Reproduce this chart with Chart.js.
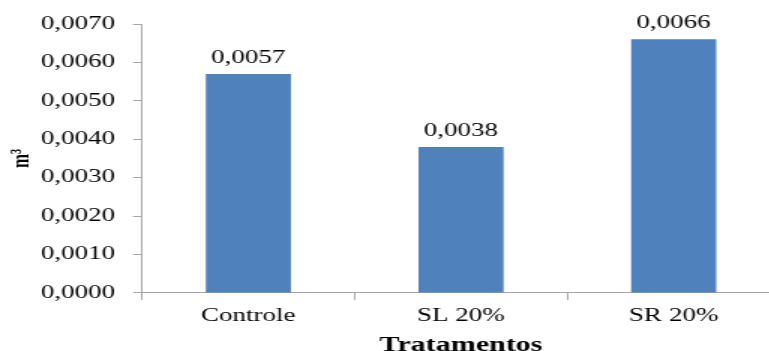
<!DOCTYPE html>
<html>
<head>
<meta charset="utf-8">
<script src="https://cdn.jsdelivr.net/npm/chart.js@4/dist/chart.umd.min.js"></script>
<style>
  html, body { margin: 0; padding: 0; background: #fff; overflow: hidden; }
  #frame { width: 769px; height: 351px; overflow: hidden; position: relative; }
  /* the chart is laid out narrow and widened horizontally */
  #stretch { width: 520px; height: 370px; transform: scaleX(1.5); transform-origin: 0 0; }
</style>
</head>
<body>
<div id="frame"><div id="stretch"><canvas id="c" width="520" height="370"></canvas></div></div>
<script>
const categories = ['Controle', 'SL 20%', 'SR 20%'];
const volumes = [0.0057, 0.0038, 0.0066];
const yMin = 0, yMax = 0.007, yStep = 0.001;
const yTitle = 'm³';
const xTitle = 'Tratamentos';

const SERIF = '"Liberation Serif", "Times New Roman", serif';
const AXIS = '#A6A6A6';
const fmt = v => Number(v).toFixed(4).replace('.', ',');

const valueLabels = {
  id: 'valueLabels',
  afterDatasetsDraw(chart) {
    const ctx = chart.ctx;
    const meta = chart.getDatasetMeta(0);
    ctx.save();
    ctx.font = '18px ' + SERIF;
    ctx.fillStyle = '#000';
    ctx.textAlign = 'center';
    ctx.textBaseline = 'alphabetic';
    meta.data.forEach((bar, i) => {
      ctx.fillText(fmt(volumes[i]), bar.x, bar.y - 11);
    });
    ctx.restore();
  }
};

new Chart(document.getElementById('c'), {
  type: 'bar',
  data: {
    labels: categories,
    datasets: [{
      data: volumes,
      backgroundColor: '#4F81BD',
      borderWidth: 0,
      categoryPercentage: 0.8,
      barPercentage: 0.5
    }]
  },
  options: {
    responsive: false,
    animation: false,
    layout: { padding: { top: 24, left: 0, right: 0, bottom: 0 } },
    plugins: { legend: { display: false }, tooltip: { enabled: false } },
    scales: {
      x: {
        offset: true,
        grid: { offset: true, drawOnChartArea: false, drawTicks: true, tickLength: 7, color: AXIS },
        border: { display: true, color: AXIS, width: 1 },
        ticks: { color: '#000', font: { family: SERIF, size: 18 }, padding: 6 },
        title: { display: true, text: xTitle, color: '#000',
                 font: { family: SERIF, size: 20, weight: 'bold' }, padding: { top: 0.5, bottom: 12 } }
      },
      y: {
        min: yMin, max: yMax,
        afterFit(scale) { scale.width = 94.7; },
        grid: { drawOnChartArea: false, drawTicks: true, tickLength: 6, color: AXIS },
        border: { display: true, color: AXIS, width: 1 },
        ticks: { stepSize: yStep, color: '#000', font: { family: SERIF, size: 18 }, padding: 12,
                 callback: v => fmt(v) },
        title: { display: true, text: yTitle, color: '#000',
                 font: { family: SERIF, size: 17, weight: 'bold' }, padding: { top: 4.5, bottom: 0 } }
      }
    }
  },
  plugins: [valueLabels]
});
</script>
</body>
</html>
